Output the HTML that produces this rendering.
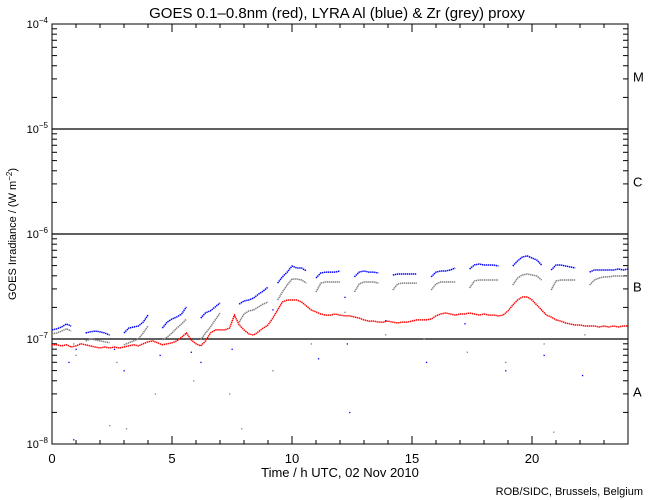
<!DOCTYPE html>
<html><head><meta charset="utf-8"><style>
html,body{margin:0;padding:0;background:#fff;}
svg{display:block;font-family:"Liberation Sans",sans-serif;}
</style></head><body>
<svg id="chart" width="650" height="500" viewBox="0 0 650 500" xmlns="http://www.w3.org/2000/svg"></svg>
<script>
// Data (irradiance in units of 1e-7 W m^-2), sampled every 0.2 h from 0 to 24 h
const STEP_H = 0.2;
const UNIT = 1e-7;
const goesRed = [
.88,.88,.86,.88,.84,.86,.90,.88,.86,.84,.82,.84,.82,.84,.82,.84,.86,.88,.86,.90,
.94,.96,.92,.88,.90,.92,.96,1.04,1.14,.98,.90,.86,.96,1.14,1.22,1.22,1.22,1.27,1.69,1.36,
1.22,1.12,1.09,1.17,1.27,1.36,1.58,1.89,2.25,2.35,2.35,2.35,2.25,2.06,1.89,1.81,1.73,1.69,1.69,1.73,
1.69,1.66,1.66,1.62,1.58,1.52,1.48,1.48,1.45,1.45,1.48,1.45,1.42,1.45,1.45,1.48,1.52,1.52,1.52,1.55,
1.66,1.73,1.77,1.73,1.69,1.73,1.73,1.77,1.73,1.69,1.73,1.69,1.69,1.66,1.69,1.85,2.11,2.35,2.51,2.51,
2.35,2.11,1.89,1.69,1.62,1.52,1.48,1.42,1.39,1.36,1.36,1.33,1.33,1.33,1.30,1.33,1.30,1.33,1.30,1.33,1.33
];
const lyraBlue = [
1.22,1.25,1.30,1.39,1.33,null,null,1.14,1.17,1.19,1.17,1.14,1.09,null,null,1.14,1.27,1.30,1.33,1.45,
1.69,null,null,1.27,1.45,1.55,1.62,1.73,2.02,null,null,1.58,1.78,1.85,2.02,2.20,null,null,null,2.15,
2.30,2.35,2.45,2.67,2.86,3.12,null,3.41,3.90,4.34,4.96,4.74,4.74,4.44,null,3.81,4.25,4.34,4.34,4.34,
4.44,null,null,3.90,4.34,4.44,4.34,4.34,4.25,null,null,4.07,4.16,4.16,4.16,4.16,4.16,null,null,3.90,
4.34,4.44,4.44,4.54,4.74,null,null,4.64,5.07,5.18,5.07,5.07,5.07,4.96,null,null,4.96,5.54,6.04,6.18,
5.91,5.66,5.07,null,4.54,5.07,5.07,4.96,4.85,4.74,null,null,4.34,4.54,4.54,4.54,4.54,4.54,4.64,4.54,4.64
];
const lyraGrey = [
1.12,1.14,1.19,1.25,1.19,null,null,.96,1.0,.98,.96,.94,.92,null,null,.88,.92,.96,1.0,1.14,
1.33,null,null,.98,1.04,1.14,1.27,1.39,1.55,null,null,.98,1.14,1.30,1.52,1.77,null,null,null,1.45,
1.73,1.85,1.89,2.02,2.15,2.25,null,2.35,2.80,3.27,3.73,3.73,3.65,3.41,null,2.80,3.41,3.49,3.49,3.49,
3.49,null,null,2.80,3.34,3.49,3.49,3.49,3.41,null,null,2.93,3.34,3.41,3.41,3.41,3.41,null,null,2.93,
3.34,3.49,3.49,3.49,3.49,null,null,3.06,3.57,3.65,3.65,3.65,3.65,3.65,null,null,3.27,3.81,4.07,4.16,
4.07,3.98,3.65,null,2.93,3.57,3.65,3.65,3.65,3.65,null,null,3.27,3.65,3.81,3.90,3.90,3.98,3.98,3.98,3.98
];
// Scattered dip points (hours, value in 1e-7)
const blueDipT = [0.7,1.0,2.6,3.0,4.5,5.8,6.2,7.5,9.2,11.1,12.2,12.3,13.9,15.6,17.2,18.9,20.5,22.1,0.9,12.4];
const blueDipV = [0.6,0.8,0.8,0.5,0.7,0.75,0.6,0.8,1.9,0.65,2.5,0.9,1.5,0.6,1.4,0.5,0.7,0.45,0.11,0.2];
const greyDipT = [0.9,1.0,2.7,4.3,5.9,7.4,9.2,10.8,12.2,13.9,15.5,17.3,18.9,20.5,22.2,2.4,3.1,7.9,20.9];
const greyDipV = [0.9,0.7,0.6,0.3,0.4,0.3,0.5,0.9,1.8,1.1,1.0,0.75,0.6,0.9,1.1,0.15,0.14,0.14,0.13];
const xTicks = [0,5,10,15,20];
const decades = [-8,-7,-6,-5,-4];
const classLabels = ["A","B","C","M"];

const X0=52, X1=628, YTOP=24, YBOT=444, HMAX=24;
const xs = h => X0 + (X1-X0)*h/HMAX;
// v is in units of 1e-7 W m^-2
const ys = v => YBOT - (Math.log10(v*UNIT) + 8) * (YBOT-YTOP)/4;
const svg = document.getElementById('chart');
const NS = 'http://www.w3.org/2000/svg';
function mk(tag, attrs, parent){ const e=document.createElementNS(NS,tag); for(const k in attrs) e.setAttribute(k,attrs[k]); (parent||svg).appendChild(e); return e; }

// Title
let t = mk('text',{x:337,y:18,'text-anchor':'middle','font-size':15,fill:'#000'});


t.textContent='GOES 0.1\u20130.8nm (red), LYRA Al (blue) & Zr (grey) proxy';

// Plot frame
let fr = mk('rect',{x:X0,y:YTOP,width:X1-X0,height:YBOT-YTOP,fill:'none',stroke:'#000','stroke-width':1});



// Y ticks & decade lines
const yAxisG = mk('g',{});


decades.forEach(d=>{
  const y = ys(Math.pow(10,d)/UNIT);
  if(d>-8 && d<-4){
    const ln = mk('line',{x1:X0,x2:X1,y1:y,y2:y,stroke:'#000','stroke-width':1.2},yAxisG);
    
    
  }
  const lb = mk('text',{x:X0-4,y:y+4,'text-anchor':'end','font-size':11,fill:'#000'},yAxisG);
  
  
  lb.textContent='10';
  const sp = mk('tspan',{dy:-5,'font-size':8},lb); sp.textContent='\u2212'+String(-d);
  if(d<-4){
    for(let m=2;m<=9;m++){
      const ym = ys(m*Math.pow(10,d)/UNIT);
      mk('line',{x1:X0,x2:X0+5,y1:ym,y2:ym,stroke:'#000'},yAxisG);
      mk('line',{x1:X1-5,x2:X1,y1:ym,y2:ym,stroke:'#000'},yAxisG);
    }
  }
});
// Class labels
classLabels.forEach((c,i)=>{
  const yc = ys(Math.pow(10,-8+i+0.5)/UNIT);
  const e = mk('text',{x:633,y:yc+5,'font-size':13,fill:'#000'});
  
  
  e.textContent=c;
});
// Y axis title
let yt = mk('text',{x:16,y:234,'text-anchor':'middle','font-size':11,fill:'#000',transform:'rotate(-90 16 234)'});


yt.textContent='GOES Irradiance / (W m';
let ys2 = mk('tspan',{dy:-4,'font-size':8},yt); ys2.textContent='\u22122';
let ys3 = mk('tspan',{dy:4},yt); ys3.textContent=')';

// X ticks
const xAxisG = mk('g',{});


for(let h=0;h<=HMAX;h++){
  const x=xs(h), L=(h%5===0)?8:4;
  mk('line',{x1:x,x2:x,y1:YBOT,y2:YBOT-L,stroke:'#000'},xAxisG);
  mk('line',{x1:x,x2:x,y1:YTOP,y2:YTOP+L,stroke:'#000'},xAxisG);
}
xTicks.forEach(h=>{
  const e = mk('text',{x:xs(h),y:463,'text-anchor':'middle','font-size':13,fill:'#000'},xAxisG);
  
  
  e.textContent=h;
});
let xt = mk('text',{x:340,y:477,'text-anchor':'middle','font-size':13,fill:'#000'});


xt.textContent='Time / h UTC, 02 Nov 2010';
let cr = mk('text',{x:643,y:495,'text-anchor':'end','font-size':11,fill:'#000'});


cr.textContent='ROB/SIDC, Brussels, Belgium';

// Series
function drawSeries(arr,color,name){
  const g = mk('g',{});
  
  
  let seg=[];
  const flush=()=>{ if(seg.length>1){ const p=mk('polyline',{points:seg.join(' '),fill:'none',stroke:color,'stroke-width':1.5,'stroke-dasharray':'1.4 0.6'},g);   } seg=[]; };
  arr.forEach((v,i)=>{
    if(v==null){flush();return;}
    const x=xs(i*STEP_H), y=ys(v);
    seg.push(x.toFixed(1)+','+y.toFixed(1));
  });
  flush();
}
function drawDots(T,V,color,name){
  T.forEach((h,i)=>{
    const d = mk('rect',{x:xs(h)-0.5,y:ys(V[i])-0.5,width:1.3,height:1.3,fill:color});
    
    
  });
}
drawDots(greyDipT,greyDipV,'#808080','grey-dip-point');
drawDots(blueDipT,blueDipV,'#0000ff','blue-dip-point');
drawSeries(lyraGrey,'#808080','lyra-zr-series');
drawSeries(lyraBlue,'#0000ff','lyra-al-series');
drawSeries(goesRed,'#ff0000','goes-series');
</script>
</body></html>
